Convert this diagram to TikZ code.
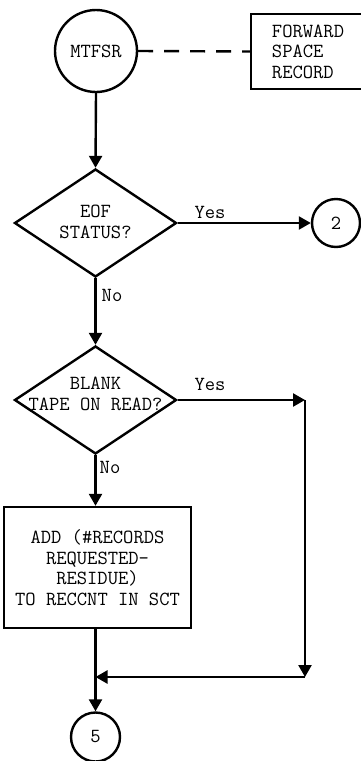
\documentclass[tikz,border=0pt]{standalone}
\usepackage{fontspec}
\usetikzlibrary{arrows.meta,shapes.geometric}
\begin{document}
\begin{tikzpicture}[x=1pt,y=-1pt,
  line width=2.4pt,
  >={Triangle[length=12pt,width=13pt]},
  every node/.style={font=\fontsize{20}{20.5}\selectfont\ttfamily\addfontfeatures{FakeBold=1.5}},
  conn/.style={circle,draw,line width=2.4pt,inner sep=0pt},
  dia/.style={diamond,draw,line width=2.4pt,minimum width=162pt,minimum height=108pt,inner sep=0pt},
  box/.style={rectangle,draw,line width=2.4pt,inner sep=0pt},
  txt/.style={align=center,inner sep=0pt},
  lbl/.style={inner sep=0pt}]
\useasboundingbox (0,0) rectangle (360,761);
% start terminal and comment
\node[conn,minimum size=82pt] (start) at (96,51) {MTFSR};
\node[box,minimum width=114pt,minimum height=75pt,align=left] (fwd) at (308,51.5) {FORWARD\\SPACE\\RECORD};
\draw[dash pattern=on 15pt off 11pt] (start.east) -- (fwd.west);
% decision 1
\node[dia] (d1) at (95.5,223) {};
\node[txt] (d1t) at (95.5,222) {EOF\\STATUS?};
\draw[->] (start.south) -- (d1.north);
\node[conn,minimum size=48pt] (c2) at (336,223) {2};
\draw[->] (d1.east) -- (c2.west);
\node[lbl] (yes1) at (210,212) {Yes};
\node[lbl] (no1) at (112,295) {No};
% decision 2
\node[dia] (d2) at (95.5,400) {};
\node[txt] (d2t) at (95.5,394) {BLANK\\TAPE ON READ?};
\draw[->] (d1.south) -- (d2.north);
\node[lbl] (yes2) at (210,384) {Yes};
\node[lbl] (no2) at (110,467) {No};
% process box
\node[box,minimum width=187pt,minimum height=121pt,align=center] (b) at (97.5,567.5) {ADD (\#RECORDS\\REQUESTED-\\RESIDUE)\\TO RECCNT IN SCT};
\draw[->] (d2.south) -- (d2.south |- b.north);
% bypass path
\coordinate (k1) at (305,400);
\coordinate (k2) at (305,677);
\coordinate (j) at (95.5,677);
\draw[->] (d2.east) -- (k1);
\draw[->] (k1) -- (k2);
\draw[->] (k2) -- (j);
% end connector
\node[conn,minimum size=49pt] (c5) at (95.5,737) {5};
\draw[->] (c5.north |- b.south) -- (c5.north);
\end{tikzpicture}
\end{document}
